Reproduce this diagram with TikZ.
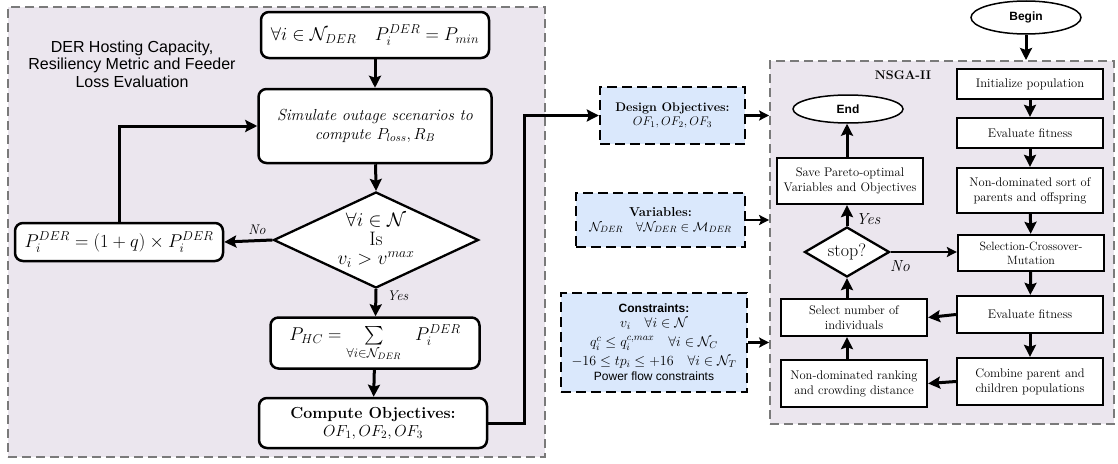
\RequirePackage{fix-cm}
\documentclass[tikz,border=0pt]{standalone}
\usepackage{amsmath,amssymb}
\usepackage{fontspec}
\setsansfont{Liberation Sans}
\usetikzlibrary{shapes.geometric,arrows.meta}

\definecolor{panelfill}{HTML}{EBE6EE}
\definecolor{panelline}{HTML}{7A7A7A}
\definecolor{inputfill}{HTML}{DAE8FC}

\newcommand{\fs}[2]{\fontsize{#1}{#2}\selectfont}

\tikzset{
  panel/.style={rectangle, draw=panelline, fill=panelfill, line width=1.8pt,
                dash pattern=on 9pt off 5pt, inner sep=0pt},
  rbox/.style={rectangle, draw, line width=2.5pt, fill=white, rounded corners=8pt,
               inner sep=2pt, align=center},
  sbox/.style={rectangle, draw, line width=2.3pt, fill=white, inner sep=1pt,
               align=center, minimum width=146pt, font=\fs{12.5}{15}},
  inbox/.style={rectangle, draw, fill=inputfill, line width=2.4pt,
                dash pattern=on 10pt off 5pt, inner sep=1pt, align=center},
  term/.style={ellipse, draw, line width=1.5pt, fill=white, inner sep=0pt,
               font=\sffamily\bfseries\fs{12}{14}},
  decide/.style={diamond, draw, line width=2.3pt, fill=white, inner sep=0pt},
  arr/.style={-{Stealth[length=12pt,width=12pt,inset=2pt]}, line width=3pt},
  thinarr/.style={-{Stealth[length=10pt,width=10pt,inset=2pt]}, line width=2.2pt},
  lbl/.style={font=\itshape\fs{14}{16}, inner sep=1pt},
}

\begin{document}
\begin{tikzpicture}[x=1pt,y=-1pt]
\path[use as bounding box, fill=white] (0,0) rectangle (1118,463);

% ---------- left panel: hosting capacity / resiliency / loss evaluation ----------
\node[panel, minimum width=537pt, minimum height=450pt] (lp) at (276.5,232) {};
\node[align=center, font=\sffamily\fs{16}{17.5}] (ltitle) at (132,64)
  {DER Hosting Capacity,\\Resiliency Metric and Feeder\\Loss Evaluation};

\node[rbox, minimum width=228pt, minimum height=46pt, font=\fs{18.5}{20}] (init) at (375,35)
  {$\forall i \in \mathcal{N}_{DER} \quad P_i^{DER} = P_{min}$};
\node[rbox, minimum width=233pt, minimum height=74pt, font=\itshape\fs{16}{19}] (sim) at (375,126)
  {Simulate outage scenarios to\\compute $P_{loss}, R_B$};
\node[decide, minimum width=205pt, minimum height=96pt] (chk) at (376,240) {};
\node[align=center, font=\fs{19.5}{19}] (chktxt) at (376,240)
  {$\forall i \in \mathcal{N}$\\Is\\$v_i > v^{max}$};
\node[rbox, minimum width=208pt, minimum height=38pt, font=\fs{18.5}{20}] (upd) at (119,242)
  {$P_i^{DER} = (1+q) \times P_i^{DER}$};
\node[rbox, minimum width=209pt, minimum height=51pt, font=\fs{18.5}{20}] (phc) at (375,343)
  {$P_{HC} = \sum\limits_{\forall i \in \mathcal{N}_{DER}} \ \ P_i^{DER}$};
\node[rbox, minimum width=228pt, minimum height=50pt, font=\fs{16}{18}] (comp) at (373,423)
  {\textbf{Compute Objectives:}\\$OF_1, OF_2, OF_3$};

\draw[arr] (init) -- (sim);
\draw[arr] (sim) -- (chk.north);
\draw[arr] (chk.south) -- (phc);
\draw[arr] (phc) -- (comp);
\draw[arr] (chk.west) -- (upd.east);
\draw[arr] (upd.north) |- (sim.west);
\node[lbl, anchor=south] (no1) at (257,236) {No};
\node[lbl, anchor=west] (yes1) at (386,296) {Yes};

% ---------- optimisation inputs ----------
\node[inbox, minimum width=145pt, minimum height=57pt, font=\fs{12.5}{14}] (obj) at (672.5,115.5)
  {\textbf{Design Objectives:}\\$OF_1, OF_2, OF_3$};
\node[inbox, minimum width=169pt, minimum height=54pt, font=\fs{13}{15}] (var) at (660.5,220)
  {\textbf{Variables:}\\$\mathcal{N}_{DER} \quad \forall \mathcal{N}_{DER} \in \mathcal{M}_{DER}$};
\node[inbox, minimum width=186pt, minimum height=99pt, font=\fs{14}{15}] (con) at (654,342.5)
  {{\sffamily\bfseries\fs{12}{14}Constraints:}\\[0pt]
   $v_i \quad \forall i \in \mathcal{N}$\\[4pt]
   $q_i^c \le q_i^{c,max} \quad \forall i \in \mathcal{N}_C$\\[4pt]
   $-16 \le tp_i \le +16 \quad \forall i \in \mathcal{N}_T$\\[0pt]
   {\sffamily\fs{12}{14}Power flow constraints}};

\draw[arr] (comp.east) -- ++(36,0) |- (obj.west);

% ---------- NSGA-II panel ----------
\node[panel, minimum width=344pt, minimum height=363pt] (np) at (942,242.5) {};
\node[font=\bfseries\fs{12.5}{14}] (ntitle) at (903,75) {NSGA-II};

\draw[thinarr] (obj.east) -- (obj.east -| np.west);
\draw[thinarr] (var.east) -- (var.east -| np.west);
\draw[thinarr] (con.east) -- (con.east -| np.west);

\node[term, minimum width=110pt, minimum height=33pt] (begin) at (1026,17.5) {Begin};
\coordinate (entry) at (1026,60);
\draw[arr] (begin) -- (entry);

\node[sbox, minimum height=30pt] (ipop) at (1030,84) {Initialize population};
\node[sbox, minimum height=30pt] (ev1) at (1030,133) {Evaluate fitness};
\node[sbox, minimum height=45pt] (nds) at (1030,190.5) {Non-dominated sort of\\parents and offspring};
\node[sbox, minimum height=36pt, font=\fs{12}{14}] (sel) at (1031,253) {Selection-Crossover-\\Mutation};
\node[sbox, minimum height=37pt] (ev2) at (1030,314.5) {Evaluate fitness};
\node[sbox, minimum height=47pt] (comb) at (1030,381.5) {Combine parent and\\children populations};

\node[term, minimum width=110pt, minimum height=28pt] (end) at (848,109) {End};
\node[sbox, minimum height=46pt] (save) at (850,181) {Save Pareto-optimal\\Variables and Objectives};
\node[decide, minimum width=85pt, minimum height=50pt] (stop) at (847,252) {};
\node[font=\fs{18}{20}] (stoptxt) at (847,252) {stop?};
\node[sbox, minimum height=37pt] (pick) at (854,317.5) {Select number of\\individuals};
\node[sbox, minimum height=47pt] (rank) at (854,383.5) {Non-dominated ranking\\and crowding distance};

\draw[arr] (ipop) -- (ev1);
\draw[arr] (ev1) -- (nds);
\draw[arr] (nds) -- (sel);
\draw[arr] (sel) -- (ev2);
\draw[arr] (ev2) -- (comb);
\draw[arr] (ev2.west) -- (pick.east);
\draw[arr] (comb.west) -- (rank.east);
\draw[arr] (rank.north -| stop) -- (pick.south -| stop);
\draw[arr] (pick.north -| stop) -- (stop.south);
\draw[arr] (stop.north) -- (save.south -| stop);
\draw[arr] (save.north -| stop) -- (end.south -| stop);
\draw[thinarr] (stop.east) -- (stop.east -| sel.west);
\node[lbl, font=\itshape\fs{16}{18}, anchor=west] (yes2) at (855,219) {Yes};
\node[lbl, font=\itshape\fs{16}{18}] (no2) at (900,266) {No};
\end{tikzpicture}
\end{document}
